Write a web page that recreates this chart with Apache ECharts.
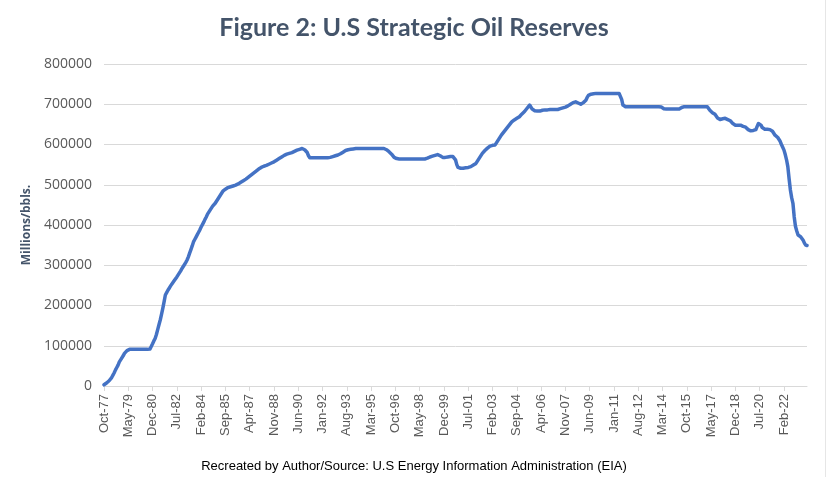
<!DOCTYPE html>
<html>
<head>
<meta charset="utf-8">
<script src="https://cdn.jsdelivr.net/npm/echarts@6/dist/echarts.min.js"></script>
<style>html,body{margin:0;padding:0;background:#fff}#c{width:828px;height:477px}</style>
</head>
<body>
<div id="c"></div>
<script>
// Monthly SPR inventory, Oct-77 .. Aug-23 (one row per calendar year)
const reserves = [
  3000, 5000, 7500, // 1977 Oct-Dec
  10000, 13000, 16000, 21000, 27000, 33000, 40000, 46000, 52000, 60000, 65000, 68000, // 1978
  75000, 81000, 85000, 88000, 90000, 91000, 91000, 91000, 91000, 91000, 91000, 91000, // 1979
  91000, 91000, 91000, 91000, 91000, 91000, 91000, 91000, 91000, 92000, 96000, 105000, // 1980
  112000, 118000, 128000, 140000, 152000, 164000, 178000, 193000, 209000, 226000, 232000, 238000, // 1981
  243000, 248000, 253000, 257000, 262000, 266000, 271000, 276000, 281000, 286000, 292000, 297000, // 1982
  302000, 307000, 313000, 321000, 330000, 339000, 348000, 358000, 364000, 370000, 376000, 382000, // 1983
  388000, 395000, 401000, 407000, 414000, 420000, 427000, 432000, 437000, 442000, 447000, 451000, // 1984
  454000, 459000, 464000, 469000, 474000, 479000, 484000, 487000, 489000, 491000, 493000, 494000, // 1985
  495000, 496000, 497000, 498000, 499000, 500000, 502000, 504000, 506000, 508000, 510000, 512000, // 1986
  514000, 517000, 519000, 521000, 524000, 526000, 529000, 531000, 534000, 536000, 539000, 541000, // 1987
  543000, 544000, 546000, 547000, 548000, 550000, 551000, 552000, 554000, 556000, 557000, 559000, // 1988
  561000, 563000, 565000, 567000, 569000, 571000, 573000, 575000, 576000, 577000, 578000, 579000, // 1989
  580000, 582000, 583000, 585000, 586000, 587000, 588000, 590000, 590000, 589000, 587000, 586000, // 1990
  580000, 572000, 567000, 567000, 567000, 567000, 567000, 567000, 567000, 567000, 567000, 567000, // 1991
  567000, 567000, 567000, 567000, 567000, 567000, 568000, 569000, 570000, 571000, 572000, 573000, // 1992
  574000, 575000, 577000, 579000, 581000, 583000, 585000, 586000, 587000, 588000, 588000, 589000, // 1993
  589000, 589000, 590000, 590000, 590000, 590000, 590000, 590000, 590000, 590000, 590000, 590000, // 1994
  590000, 590000, 590000, 590000, 590000, 590000, 590000, 590000, 590000, 590000, 590000, 590000, // 1995
  590000, 589000, 587000, 584000, 582000, 580000, 576000, 572000, 568000, 566000, 565000, 564000, // 1996
  564000, 564000, 564000, 564000, 564000, 564000, 564000, 564000, 564000, 564000, 564000, 564000, // 1997
  564000, 564000, 564000, 564000, 564000, 564000, 564000, 564000, 564000, 564000, 566000, 568000, // 1998
  569000, 570000, 571000, 572000, 573000, 574000, 575000, 574000, 572000, 569000, 568000, 568000, // 1999
  568000, 569000, 569000, 570000, 570000, 570000, 570000, 569000, 562000, 550000, 543000, 542000, // 2000
  541000, 541000, 541000, 541000, 542000, 542000, 543000, 544000, 545000, 547000, 549000, 551000, // 2001
  553000, 558000, 563000, 568000, 573000, 578000, 582000, 585000, 588000, 591000, 594000, 596000, // 2002
  597000, 598000, 599000, 599000, 604000, 609000, 614000, 619000, 624000, 628000, 632000, 636000, // 2003
  640000, 644000, 648000, 652000, 656000, 659000, 661000, 663000, 665000, 667000, 669000, 672000, // 2004
  676000, 679000, 682000, 686000, 690000, 694000, 698000, 694000, 688000, 685000, 684000, 683000, // 2005
  683000, 682000, 683000, 684000, 685000, 686000, 686000, 686000, 686000, 687000, 687000, 687000, // 2006
  687000, 687000, 687000, 687000, 687000, 688000, 689000, 690000, 691000, 692000, 693000, 694000, // 2007
  696000, 698000, 700000, 702000, 704000, 705000, 706000, 706000, 703000, 700000, 700000, 702000, // 2008
  704000, 704000, 710000, 717000, 722000, 724000, 725000, 726000, 726000, 727000, 727000, 727000, // 2009
  727000, 727000, 727000, 727000, 727000, 727000, 727000, 727000, 727000, 727000, 727000, 727000, // 2010
  727000, 727000, 727000, 727000, 727000, 727000, 712000, 698000, 694000, 694000, 694000, 694000, // 2011
  694000, 694000, 694000, 694000, 694000, 694000, 694000, 694000, 694000, 694000, 694000, 694000, // 2012
  694000, 694000, 694000, 694000, 694000, 694000, 694000, 694000, 694000, 694000, 694000, 694000, // 2013
  694000, 693000, 691000, 689000, 688000, 688000, 688000, 688000, 688000, 688000, 688000, 688000, // 2014
  688000, 688000, 688000, 688000, 690000, 692000, 694000, 694000, 694000, 694000, 694000, 694000, // 2015
  694000, 694000, 694000, 694000, 694000, 694000, 694000, 694000, 694000, 694000, 694000, 694000, // 2016
  694000, 694000, 690000, 685000, 681000, 679000, 677000, 675000, 672000, 666000, 662000, 662000, // 2017
  663000, 664000, 665000, 665000, 664000, 662000, 660000, 659000, 656000, 652000, 649000, 648000, // 2018
  648000, 648000, 648000, 648000, 647000, 645000, 644000, 643000, 640000, 637000, 635000, 634000, // 2019
  635000, 635000, 636000, 637000, 645000, 652000, 654000, 648000, 642000, 639000, 638000, 638000, // 2020
  638000, 637000, 637000, 636000, 633000, 628000, 623000, 621000, 618000, 615000, 608000, 600000, // 2021
  593000, 586000, 575000, 562000, 545000, 515000, 487000, 468000, 454000, 420000, 396000, 385000, // 2022
  375000, 372000, 371000, 368000, 362000, 355000, 350000, 349000 // 2023 Jan-Aug
];
const monthNames = ['Jan','Feb','Mar','Apr','May','Jun','Jul','Aug','Sep','Oct','Nov','Dec'];
const startYear = 1977, startMonth = 9; // Oct-77
const categories = reserves.map((_, i) => {
  const m = startMonth + i;
  const y = startYear + Math.floor(m / 12);
  return monthNames[m % 12] + '-' + String(y % 100).padStart(2, '0');
});
const yTicks = [0, 100000, 200000, 300000, 400000, 500000, 600000, 700000, 800000];

const chart = echarts.init(document.getElementById('c'), null, {renderer: 'canvas'});
chart.setOption({
  backgroundColor: '#ffffff',
  animation: false,
  title: [{
    text: 'Figure 2: U.S Strategic Oil Reserves',
    left: 'center',
    top: 10,
    textStyle: {fontFamily: 'Lato', fontWeight: 'bold', fontSize: 25, color: '#44546A'}
  }, {
    text: 'Recreated by Author/Source: U.S Energy Information Administration (EIA)',
    left: 'center',
    top: 455,
    textStyle: {fontFamily: 'Liberation Sans', fontWeight: 'normal', fontSize: 13, color: '#000000'}
  }],
  grid: {left: 104, right: 21, top: 64, bottom: 91, containLabel: false},
  xAxis: {
    type: 'category',
    data: categories,
    boundaryGap: false,
    axisLine: {lineStyle: {color: '#D9D9D9', width: 1}},
    axisTick: {show: true, interval: 18, length: 5, lineStyle: {color: '#D9D9D9'}},
    axisLabel: {interval: 18, rotate: 90, fontFamily: 'Liberation Sans', fontSize: 13, color: '#595959', margin: 8}
  },
  yAxis: {
    type: 'value',
    min: yTicks[0],
    max: yTicks[yTicks.length - 1],
    interval: 100000,
    name: 'Millions/bbls.',
    nameLocation: 'middle',
    nameGap: 65,
    nameTextStyle: {fontFamily: 'Open Sans', fontWeight: 'bold', fontSize: 12, color: '#44546A'},
    axisLine: {show: false},
    axisTick: {show: false},
    axisLabel: {formatter: v => String(v), fontFamily: 'Open Sans', fontSize: 14, color: '#595959', margin: 12},
    splitLine: {lineStyle: {color: '#D9D9D9', width: 1}}
  },
  series: [{
    type: 'line',
    data: reserves,
    showSymbol: false,
    smooth: false,
    lineStyle: {color: '#4472C4', width: 3.5, cap: 'round', join: 'round'},
    itemStyle: {color: '#4472C4'}
  }],
  graphic: [{
    type: 'line',
    shape: {x1: 825.5, y1: 0, x2: 825.5, y2: 477},
    style: {stroke: '#E6E6E6', lineWidth: 1}
  }]
});
</script>
</body>
</html>
